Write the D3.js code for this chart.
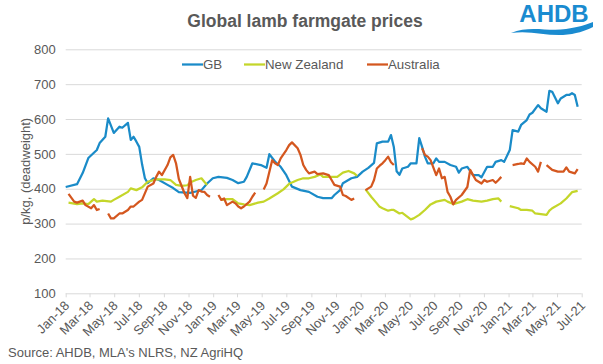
<!DOCTYPE html>
<html>
<head>
<meta charset="utf-8">
<script src="https://cdn.jsdelivr.net/npm/d3@7"></script>
<style>
  body { margin: 0; background: #fff; }
  svg text { font-family: "Liberation Sans", Arial, sans-serif; fill: #595959; }
</style>
</head>
<body>
<div id="chart"></div>
<script>
// weekly prices, [weeks since 1 Jan 2018, p/kg]; a null value breaks the line
var gbPrices = [[0,405],[4,413],[6,445],[8,488],[11,511],[12,531],[14,549],[15,602],[17,560],[19,578],[20,575],[22,589],[23,540],[24,549],[25,535],[26,520],[27,470],[28,430],[29,416],[31,430],[33,425],[36,411],[38,402],[40,390],[44,388],[46,392],[48,396],[50,415],[52,430],[54,434],[57,431],[59,425],[61,416],[63,420],[64,434],[66,473],[69,468],[71,460],[72,499],[74,478],[76,463],[78,439],[80,406],[83,396],[86,391],[89,377],[91,373],[94,373],[95,382],[97,396],[98,416],[101,430],[103,434],[105,449],[107,460],[109,474],[110,530],[112,535],[114,535],[115,554],[116,520],[117,450],[118,440],[119,458],[121,463],[122,473],[124,473],[125,545],[126,520],[127,492],[128,473],[130,473],[131,487],[132,477],[134,477],[136,468],[138,463],[139,446],[140,458],[142,463],[144,439],[146,439],[147,433],[149,463],[151,463],[152,477],[154,482],[155,477],[157,511],[158,568],[160,564],[161,583],[163,597],[164,613],[165,618],[167,640],[168,631],[170,621],[171,681],[172,678],[174,645],[175,659],[177,669],[178,669],[179,674],[180,669],[181,635]];

var nzPrices = [[1,360],[4,356],[6,358],[8,356],[10,370],[11,363],[13,366],[16,363],[17,368],[19,377],[22,391],[23,401],[25,396],[27,404],[29,420],[32,427],[35,427],[37,425],[39,411],[41,408],[43,410],[44,418],[46,425],[48,430],[49,420],[50,411],[52,null],
  [55,368],[57,370],[59,370],[61,358],[63,355],[65,353],[68,360],[70,363],[72,372],[75,387],[77,398],[79,414],[82,425],[84,430],[86,430],[88,434],[90,441],[91,434],[93,434],[96,434],[98,446],[100,451],[102,444],[103,437],[104,null],
  [106,398],[108,377],[110,358],[111,348],[112,344],[114,337],[115,339],[116,339],[117,334],[118,329],[119,331],[122,312],[123,315],[125,325],[127,339],[129,355],[131,363],[134,368],[135,363],[137,356],[140,363],[142,370],[144,366],[147,363],[149,366],[151,370],[153,372],[154,363],[155,null],
  [157,350],[160,344],[161,339],[163,339],[165,337],[166,329],[168,327],[170,325],[171,337],[172,344],[175,358],[177,372],[179,390],[181,394]];

var auPrices = [[1,385],[3,363],[4,360],[6,366],[7,353],[9,344],[10,353],[11,339],[12,342],[13,null],
  [15,329],[16,315],[17,315],[19,329],[20,329],[22,339],[23,349],[24,349],[26,363],[27,368],[29,406],[31,415],[32,434],[33,449],[34,439],[36,468],[37,490],[38,497],[39,473],[40,428],[42,387],[43,373],[44,434],[45,380],[46,374],[47,396],[48,392],[49,391],[50,382],[51,377],[52,null],
  [54,382],[55,368],[56,372],[57,353],[59,363],[60,358],[61,349],[62,344],[63,349],[65,363],[66,377],[67,389],[68,null],
  [70,398],[71,415],[73,482],[74,473],[75,468],[76,487],[78,511],[79,525],[80,533],[82,516],[83,497],[84,468],[85,454],[86,444],[88,449],[89,442],[91,444],[93,439],[94,425],[95,411],[97,406],[98,382],[99,379],[101,368],[102,372],[104,null],
  [106,396],[108,406],[109,425],[110,458],[111,466],[112,473],[113,482],[114,492],[115,476],[116,468],[117,null],
  [126,516],[127,497],[128,492],[129,482],[131,439],[132,458],[133,430],[134,434],[135,391],[136,377],[137,355],[138,368],[140,382],[142,405],[143,454],[144,439],[145,425],[147,415],[148,425],[149,420],[151,425],[152,417],[153,425],[154,434],[155,null],
  [158,468],[160,471],[161,473],[162,471],[163,487],[164,477],[166,463],[167,449],[168,477],[169,null],
  [170,468],[172,454],[174,449],[175,449],[176,449],[177,461],[178,449],[180,444],[181,456]];

var seriesNames = ["GB", "New Zealand", "Australia"];
var seriesColors = ["#1a8bc8", "#c4d62a", "#d4571f"];
var yTicks = [100, 200, 300, 400, 500, 600, 700, 800];
var xTickLabels = ["Jan-18","Mar-18","May-18","Jul-18","Sep-18","Nov-18","Jan-19","Mar-19","May-19","Jul-19","Sep-19","Nov-19",
  "Jan-20","Mar-20","May-20","Jul-20","Sep-20","Nov-20","Jan-21","Mar-21","May-21","Jul-21"];

function init(){
  var w = 603, h = 364;
  var pLeft = 65.7, pRight = 581.7, pTop = 49.3, pBottom = 293.3;

  var svg = d3.select("#chart").append("svg")
    .attr("width", w)
    .attr("height", h);

  var parseTick = d3.timeParse("%b-%y");
  var startDate = new Date(2018, 0, 1);
  function weekDate(wk){ return d3.timeDay.offset(startDate, wk * 7); }

  var x = d3.scaleTime()
    .domain([parseTick("Jan-18"), parseTick("Jul-21")])
    .range([pLeft, pRight]);
  var y = d3.scaleLinear().domain([100, 800]).range([pBottom, pTop]);

  // gridlines + y labels
  var yAxis = svg.append("g")
    .attr("transform", "translate(" + pLeft + ",0)")
    .call(d3.axisLeft(y).tickValues(yTicks).tickSize(-(pRight - pLeft)).tickPadding(10));
  yAxis.select(".domain").remove();
  yAxis.selectAll("line").attr("stroke", "#d9d9d9");
  yAxis.selectAll("text").style("font-size", "13px").attr("fill", "#595959");

  // x axis
  var xAxis = svg.append("g")
    .attr("transform", "translate(0," + pBottom + ")")
    .call(d3.axisBottom(x).tickValues(xTickLabels.map(parseTick)).tickSize(4).tickFormat(d3.timeFormat("%b-%y")));
  xAxis.select(".domain").remove();
  xAxis.selectAll("line").attr("stroke", "#d9d9d9");
  xAxis.selectAll("text")
    .attr("y", 0).attr("dy", 0)
    .attr("transform", "translate(4,13) rotate(-45)")
    .style("text-anchor", "end")
    .style("font-size", "13px")
    .attr("fill", "#595959");

  // lines
  var line = d3.line()
    .defined(function(d){ return d[1] != null; })
    .x(function(d){ return x(weekDate(d[0])); })
    .y(function(d){ return y(d[1]); });

  [gbPrices, nzPrices, auPrices].forEach(function(s, i){
    svg.append("path")
      .datum(s)
      .attr("d", line)
      .attr("fill", "none")
      .attr("stroke", seriesColors[i])
      .attr("stroke-width", 2.25)
      .attr("stroke-linejoin", "round");
  });

  // legend
  var legendX = [182, 244, 367];
  var leg = svg.selectAll(".leg").data(seriesNames).enter().append("g")
    .attr("transform", function(d, i){ return "translate(" + legendX[i] + ",64.5)"; });
  leg.append("line").attr("x1", 0).attr("x2", 21).attr("y1", 0).attr("y2", 0)
    .attr("stroke", function(d, i){ return seriesColors[i]; })
    .attr("stroke-width", 2.25);
  leg.append("text").attr("x", 21).attr("y", 4.5)
    .style("font-size", "13.3px")
    .text(function(d){ return d; });

  // title
  svg.append("text").attr("x", 305).attr("y", 27)
    .attr("text-anchor", "middle")
    .style("font-size", "17.5px").style("font-weight", "bold")
    .text("Global lamb farmgate prices");

  // y title
  svg.append("text")
    .attr("transform", "translate(30," + ((pTop + pBottom) / 2) + ") rotate(-90)")
    .attr("text-anchor", "middle")
    .style("font-size", "13px")
    .text("p/kg, (deadweight)");

  // source
  svg.append("text").attr("x", 8).attr("y", 357)
    .style("font-size", "13px")
    .text("Source: AHDB, MLA's NLRS, NZ AgriHQ");

  // AHDB logo
  var logo = svg.append("g");
  logo.append("text").attr("x", 554).attr("y", 22)
    .attr("text-anchor", "middle")
    .style("font-size", "24px").style("font-weight", "bold")
    .style("fill", "#1a8bd0")
    .text("AHDB");
  logo.append("path")
    .attr("d", "M511,33 C530,25 548,32 566,29 C578,27 586,25 593,22 L593,27 C585,31 576,34 563,35 C546,36 530,30 511,33 Z")
    .attr("fill", "#1a8bd0");
}
window.onload = init;
</script>
</body>
</html>
